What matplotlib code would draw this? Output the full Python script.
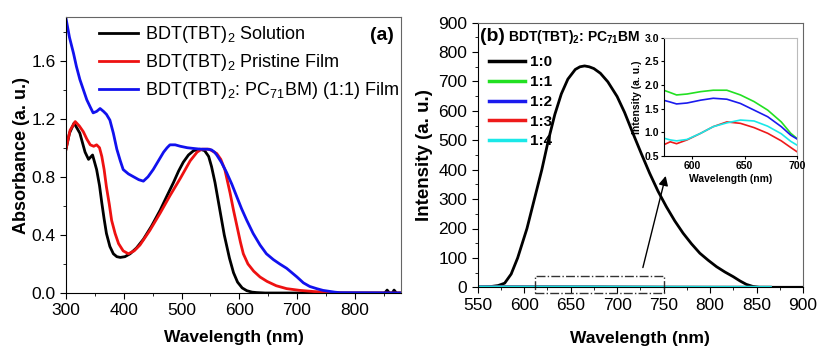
import numpy as np
import matplotlib
matplotlib.use('Agg')
import matplotlib.pyplot as plt
from matplotlib.ticker import MultipleLocator

plt.rcParams['font.family'] = ['Liberation Sans', 'DejaVu Sans']
plt.rcParams['mathtext.default'] = 'regular'

# (a) absorption spectra
wl_sol = [300, 306, 314, 324, 333, 339, 346, 353, 358, 362, 366, 370, 376, 382, 388, 394,
          402, 411, 422, 434, 448, 463, 475, 486, 495, 503, 512, 521, 532, 540, 547, 552,
          558, 566, 574, 583, 590, 597, 605, 613, 622, 630, 645, 700, 800, 852, 856, 860,
          865, 868, 872, 880]
abs_sol = [0.99, 1.10, 1.17, 1.10, 0.97, 0.92, 0.95, 0.85, 0.74, 0.62, 0.51, 0.41, 0.32,
           0.27, 0.25, 0.245, 0.25, 0.27, 0.31, 0.37, 0.46, 0.57, 0.67, 0.76, 0.84, 0.90,
           0.95, 0.98, 0.99, 0.98, 0.94, 0.87, 0.76, 0.58, 0.40, 0.24, 0.14, 0.075, 0.035,
           0.016, 0.006, 0.003, 0.0, 0.0, 0.0, 0.0, 0.02, 0.0, 0.0, 0.02, 0.0, 0.0]

wl_film = [300, 307, 316, 323, 330, 336, 342, 348, 353, 358, 362, 366, 370, 375, 379, 385,
           391, 399, 408, 418, 428, 445, 463, 480, 498, 515, 527, 535, 548, 561, 568, 575,
           584, 590, 596, 602, 607, 615, 625, 636, 648, 664, 682, 705, 729, 780, 880]
abs_film = [0.99, 1.12, 1.18, 1.15, 1.11, 1.06, 1.02, 1.01, 1.02, 1.00, 0.94, 0.85, 0.73,
            0.61, 0.50, 0.41, 0.34, 0.29, 0.27, 0.29, 0.33, 0.43, 0.55, 0.67, 0.79, 0.91,
            0.97, 0.99, 0.99, 0.96, 0.92, 0.85, 0.69, 0.57, 0.46, 0.35, 0.27, 0.20, 0.15,
            0.11, 0.08, 0.05, 0.03, 0.018, 0.01, 0.0, 0.0]

wl_blend = [300, 306, 313, 318, 324, 330, 336, 342, 347, 353, 359, 365, 370, 376, 382, 388,
            394, 399, 408, 417, 426, 434, 442, 451, 460, 469, 475, 480, 489, 498, 510, 521,
            533, 545, 552, 557, 561, 569, 578, 587, 596, 604, 613, 624, 636, 647, 659, 670,
            682, 688, 694, 700, 711, 722, 734, 745, 755, 765, 775, 880]
abs_blend = [1.89, 1.76, 1.65, 1.56, 1.47, 1.40, 1.33, 1.28, 1.24, 1.25, 1.27, 1.25, 1.23,
             1.19, 1.10, 0.99, 0.91, 0.85, 0.82, 0.80, 0.78, 0.77, 0.80, 0.85, 0.91, 0.97,
             1.00, 1.02, 1.02, 1.01, 1.00, 0.995, 0.99, 0.99, 0.985, 0.97, 0.95, 0.90, 0.83,
             0.75, 0.66, 0.58, 0.50, 0.41, 0.33, 0.27, 0.23, 0.20, 0.17, 0.15, 0.13, 0.11,
             0.07, 0.045, 0.03, 0.018, 0.012, 0.006, 0.002, 0.0]

abs_labels = ['BDT(TBT)$_2$ Solution', 'BDT(TBT)$_2$ Pristine Film',
              'BDT(TBT)$_2$: PC$_{71}$BM) (1:1) Film']

# (b) photoluminescence
wl_pl0 = [550, 558, 565, 572, 579, 586, 593, 598, 603, 611, 619, 626, 633, 640, 647, 655,
          660, 665, 670, 675, 682, 690, 700, 708, 717, 726, 735, 744, 753, 762, 771, 780,
          789, 798, 807, 816, 825, 832, 839, 846, 853, 900]
pl_10 = [0, 1, 3, 6, 14, 45, 100, 150, 200, 300, 400, 500, 588, 658, 708, 741, 750, 753,
         750, 744, 728, 699, 649, 595, 524, 455, 388, 327, 274, 226, 184, 148, 116, 92, 70,
         52, 36, 22, 10, 3, 0, 0]

wl_pl = [550, 574, 579, 585, 595, 608, 620, 633, 646, 659, 672, 685, 694, 700, 750, 800, 865]
pl_11 = [1.95, 1.88, 1.84, 1.79, 1.81, 1.86, 1.89, 1.89, 1.79, 1.65, 1.47, 1.22, 0.98, 0.87, 0.4, 0.2, 0.1]
pl_12 = [1.70, 1.67, 1.64, 1.60, 1.62, 1.68, 1.72, 1.70, 1.61, 1.47, 1.33, 1.12, 0.94, 0.86, 0.4, 0.2, 0.1]
pl_13 = [0.70, 0.75, 0.80, 0.76, 0.84, 0.98, 1.12, 1.22, 1.19, 1.10, 0.98, 0.82, 0.68, 0.59, 0.3, 0.15, 0.05]
pl_14 = [0.90, 0.87, 0.84, 0.82, 0.85, 0.98, 1.12, 1.20, 1.26, 1.24, 1.13, 0.97, 0.81, 0.73, 0.35, 0.15, 0.05]
pl_labels = ['1:0', '1:1', '1:2', '1:3', '1:4']
pl_colors = ['black', '#22e022', '#1a1aee', '#ee1a1a', '#1ae8e8']

fig = plt.figure(figsize=(8.19, 3.48), dpi=100)

# ---- panel (a)
ax1 = fig.add_axes([66/819, 55/348, 335/819, 276/348])
ax1.plot(wl_sol, abs_sol, color='black', lw=2, label=abs_labels[0])
ax1.plot(wl_film, abs_film, color='#ee1111', lw=2, label=abs_labels[1])
ax1.plot(wl_blend, abs_blend, color='#1111ee', lw=2, label=abs_labels[2])
ax1.set_xlim(300, 880)
ax1.set_ylim(0, 1.9)
ax1.xaxis.set_major_locator(MultipleLocator(100))
ax1.xaxis.set_minor_locator(MultipleLocator(50))
ax1.yaxis.set_major_locator(MultipleLocator(0.4))
ax1.yaxis.set_minor_locator(MultipleLocator(0.2))
ax1.set_xlabel('Wavelength (nm)', fontsize=12.5, fontweight='bold', labelpad=8)
ax1.set_ylabel('Absorbance (a. u.)', fontsize=13, fontweight='bold', labelpad=1)
ax1.legend(loc='upper left', bbox_to_anchor=(0.098, 0.975), frameon=False, fontsize=13,
           handlelength=2.15, handletextpad=0.4, labelspacing=0.4, borderpad=0,
           borderaxespad=0)
ax1.text(0.943, 0.915, '(a)', transform=ax1.transAxes, ha='center', va='baseline',
         fontsize=14, fontweight='bold')

# ---- panel (b)
ax2 = fig.add_axes([477.7/819, 60.7/348, 325.3/819, 264.6/348])
ax2.plot(wl_pl0, pl_10, color=pl_colors[0], lw=2, label=pl_labels[0])
for vals, c, lab in zip([pl_11, pl_12, pl_13, pl_14], pl_colors[1:], pl_labels[1:]):
    ax2.plot(wl_pl, vals, color=c, lw=2, label=lab)
ax2.set_xlim(550, 900)
ax2.set_ylim(0, 900)
ax2.xaxis.set_major_locator(MultipleLocator(50))
ax2.xaxis.set_minor_locator(MultipleLocator(25))
ax2.yaxis.set_major_locator(MultipleLocator(100))
ax2.yaxis.set_minor_locator(MultipleLocator(50))
ax2.set_xlabel('Wavelength (nm)', fontsize=12.5, fontweight='bold', labelpad=13)
ax2.set_ylabel('Intensity (a. u.)', fontsize=13.5, fontweight='bold', labelpad=4)
leg = ax2.legend(loc='upper left', bbox_to_anchor=(0.035, 0.877), frameon=False,
                 handlelength=2.35, handletextpad=0.3, labelspacing=0.38, borderpad=0,
                 borderaxespad=0, prop={'size': 11, 'weight': 'bold'})
for line in leg.get_lines():
    line.set_linewidth(2.5)
ax2.text(0.008, 0.932, '(b)', transform=ax2.transAxes, ha='left', va='baseline',
         fontsize=14, fontweight='bold')
ax2.text(0.093, 0.932, 'BDT(TBT)$_2$: PC$_{71}$BM', transform=ax2.transAxes, ha='left',
         va='baseline', fontsize=10, fontweight='bold')

# zoom box and arrow
ax2.plot([612, 750, 750, 612, 612], [-20, -20, 40, 40, -20], color='#333333', lw=1,
         ls='-.', clip_on=False)
ax2.annotate('', xy=(753, 388), xytext=(727, 58),
             arrowprops=dict(arrowstyle='-|>', color='black', lw=1, mutation_scale=14))

for ax in (ax1, ax2):
    ax.tick_params(which='both', direction='out', labelsize=12.5, top=False, right=False)
    ax.tick_params(which='major', length=4)
    ax.tick_params(which='minor', length=2.5)
    ax.spines['top'].set_color('#666666')
    ax.spines['right'].set_color('#666666')

# ---- inset
ax3 = fig.add_axes([664/819, 192/348, 133/819, 118.3/348])
for vals, c in zip([pl_11, pl_12, pl_13, pl_14], pl_colors[1:]):
    ax3.plot(wl_pl, vals, color=c, lw=1.2)
ax3.set_xlim(573, 700)
ax3.set_ylim(0.5, 3.0)
ax3.xaxis.set_major_locator(MultipleLocator(50))
ax3.yaxis.set_major_locator(MultipleLocator(0.5))
ax3.tick_params(direction='out', length=2, labelsize=7.5, pad=1.5)
for lab in ax3.get_xticklabels() + ax3.get_yticklabels():
    lab.set_fontweight('bold')
ax3.set_xlabel('Wavelength (nm)', fontsize=7.5, fontweight='bold', labelpad=2)
ax3.set_ylabel('Intensity (a. u.)', fontsize=7.5, fontweight='bold', labelpad=2)
ax3.spines['top'].set_color('#bbbbbb')
ax3.spines['right'].set_color('#bbbbbb')

fig.savefig('out.png', dpi=100)
